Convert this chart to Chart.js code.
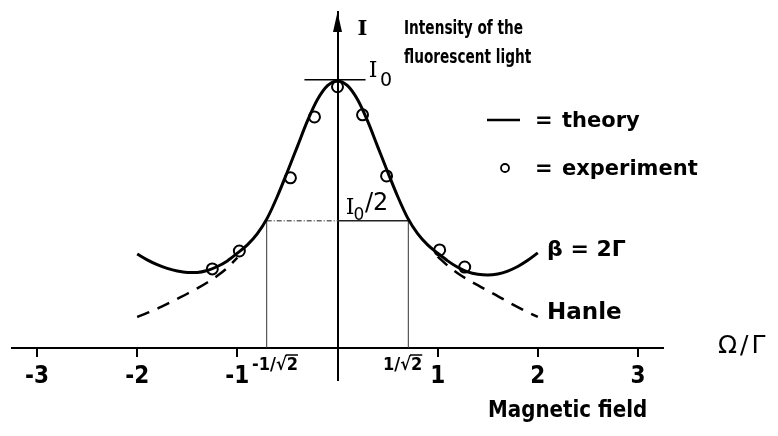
<!DOCTYPE html>
<html>
<head>
<meta charset="utf-8">
<script src="https://cdn.jsdelivr.net/npm/chart.js@4.4.1/dist/chart.umd.min.js"></script>
<style>
  html, body { margin: 0; padding: 0; background: #fff; }
  #wrap { width: 778px; height: 436px; position: relative; }
</style>
</head>
<body>
<div id="wrap"><canvas id="chart"></canvas></div>
<script>
// x in units of Omega/Gamma, y in units of I0
const xTicks = [-3, -2, -1, 1, 2, 3];

const theoryX = [-2.0, -1.9, -1.8, -1.7, -1.6, -1.5, -1.4, -1.3, -1.2, -1.1, -1.0,
  -0.9, -0.8, -0.7, -0.6, -0.5, -0.4, -0.3, -0.2, -0.1, 0.0,
  0.1, 0.2, 0.3, 0.4, 0.5, 0.6, 0.7, 0.8, 0.9, 1.0,
  1.1, 1.2, 1.3, 1.4, 1.5, 1.6, 1.7, 1.8, 1.9, 2.0];
const theoryI = [0.352, 0.330, 0.312, 0.298, 0.288, 0.283, 0.283, 0.290, 0.305, 0.326, 0.355,
  0.386, 0.428, 0.487, 0.568, 0.660, 0.755, 0.850, 0.930, 0.982, 1.000,
  0.982, 0.930, 0.850, 0.755, 0.660, 0.568, 0.487, 0.428, 0.386, 0.355,
  0.326, 0.302, 0.285, 0.276, 0.273, 0.277, 0.288, 0.305, 0.328, 0.356];

// Hanle curve, only the parts that leave the theory curve
const hanleLeftX = [-2.0, -1.9, -1.8, -1.7, -1.6, -1.5, -1.4, -1.3, -1.2, -1.1, -1.0];
const hanleLeftI = [0.116, 0.131, 0.147, 0.165, 0.184, 0.203, 0.223, 0.245, 0.270, 0.300, 0.338];
const hanleRightX = [1.0, 1.1, 1.2, 1.3, 1.4, 1.5, 1.6, 1.7, 1.8, 1.9, 2.0];
const hanleRightI = [0.342, 0.308, 0.280, 0.256, 0.235, 0.214, 0.194, 0.173, 0.153, 0.134, 0.116];

// measured points
const expX = [-1.25, -0.98, -0.47, -0.23, 0.0, 0.25, 0.49, 1.02, 1.27];
const expI = [0.296, 0.363, 0.637, 0.865, 0.978, 0.873, 0.644, 0.367, 0.303];

// half width construction and I0 marker
const halfX = [-0.707, 0.707];
const halfI = 0.476;
const i0MarkX = [-0.33, 0.28];
const i0Level = 1.004;

const pts = (xs, ys) => xs.map((x, i) => ({ x: x, y: ys[i] }));

const lineSet = (data, extra) => Object.assign({
  data: data,
  showLine: true,
  borderColor: "#000",
  borderWidth: 3,
  pointRadius: 0,
  fill: false,
}, extra);

const SANS = "'DejaVu Sans', sans-serif";
const COND = "'DejaVu Sans Condensed', 'DejaVu Sans', sans-serif";
const SERIF = "'DejaVu Serif', serif";

const annotations = {
  id: "annotations",
  afterDatasetsDraw(chart) {
    const ctx = chart.ctx;
    const xs = chart.scales.x;
    const ys = chart.scales.y;
    const x0 = xs.getPixelForValue(0);
    const top = chart.chartArea.top;

    const text = (str, x, y, font, align, spacing) => {
      ctx.font = font;
      ctx.textAlign = align || "left";
      ctx.textBaseline = "middle";
      ctx.letterSpacing = spacing || "0px";
      ctx.fillText(str, x, y);
      ctx.letterSpacing = "0px";
    };
    // lettering squeezed sideways, like the stencil text of the figure
    const narrow = (str, x, y, font, sx) => {
      ctx.save();
      ctx.translate(x, y);
      ctx.scale(sx, 1);
      text(str, 0, 0, font);
      ctx.restore();
    };

    ctx.save();
    ctx.fillStyle = "#000";
    ctx.strokeStyle = "#000";

    // arrow head on the intensity axis
    ctx.beginPath();
    ctx.moveTo(x0, top);
    ctx.lineTo(x0 - 4.5, top + 20);
    ctx.lineTo(x0 + 4.5, top + 20);
    ctx.closePath();
    ctx.fill();

    // axis titles
    text("I", x0 + 25, 30, "bold 21px " + SERIF, "center");
    narrow("Intensity of the", 404, 29, "bold 19px " + COND, 0.8);
    narrow("fluorescent light", 404, 58, "bold 19px " + COND, 0.8);
    text("\u03A9/\u0393", 718, 346, "25px " + SANS, "left", "3px");
    narrow("Magnetic field", 488, 411, "bold 23px " + COND, 0.96);

    // I0 label
    const yI0 = ys.getPixelForValue(i0Level);
    text("I", 373, yI0 - 9, "22px " + SERIF, "center");
    text("0", 386, yI0 + 1, "19px " + SANS, "center");

    // I0/2 label
    const yHalf = ys.getPixelForValue(halfI);
    text("I", 350, yHalf - 13, "22px " + SERIF, "center");
    text("0", 359, yHalf - 5, "17px " + SANS, "center");
    text("/2", 365, yHalf - 17, "24px " + SANS);

    // curve labels
    text("\u03B2 = 2\u0393", 547, 250, "bold 22px " + SANS);
    text("Hanle", 547, 313, "bold 23px " + SANS);

    // half width tick labels with an overline on the root
    const rootLabel = (pre, x, y) => {
      ctx.font = "bold 18px " + COND;
      ctx.textAlign = "left";
      ctx.textBaseline = "alphabetic";
      ctx.fillText(pre + "\u221A2", x, y);
      const w0 = ctx.measureText(pre + "\u221A").width;
      const w1 = ctx.measureText(pre + "\u221A2").width;
      ctx.lineWidth = 1.5;
      ctx.beginPath();
      ctx.moveTo(x + w0 - 1, y - 15);
      ctx.lineTo(x + w1, y - 15);
      ctx.stroke();
    };
    rootLabel("-1/", 252, 370);
    rootLabel("1/", 383, 370);

    // legend
    ctx.lineWidth = 2.5;
    ctx.beginPath();
    ctx.moveTo(487, 120);
    ctx.lineTo(520, 120);
    ctx.stroke();
    text("=", 535, 122, "bold 21px " + SANS);
    text("theory", 562, 122, "bold 21px " + SANS);
    ctx.lineWidth = 1.8;
    ctx.beginPath();
    ctx.arc(505, 168, 4, 0, Math.PI * 2);
    ctx.stroke();
    text("=", 535, 170, "bold 21px " + SANS);
    text("experiment", 562, 170, "bold 21px " + SANS);

    ctx.restore();
  },
};

new Chart(document.getElementById("chart"), {
  type: "scatter",
  data: {
    datasets: [
      lineSet(pts(theoryX, theoryI), { cubicInterpolationMode: "monotone" }),
      lineSet(pts(hanleLeftX, hanleLeftI), { borderWidth: 2.5, borderDash: [13, 9], cubicInterpolationMode: "monotone" }),
      lineSet(pts(hanleRightX, hanleRightI), { borderWidth: 2.5, borderDash: [13, 9], cubicInterpolationMode: "monotone" }),
      lineSet([{ x: halfX[0], y: halfI }, { x: 0, y: halfI }], { borderColor: "#666", borderWidth: 1.5, borderDash: [5, 2, 1, 2] }),
      lineSet([{ x: 0, y: halfI }, { x: halfX[1], y: halfI }], { borderColor: "#222", borderWidth: 1.5 }),
      lineSet([{ x: halfX[0], y: 0 }, { x: halfX[0], y: halfI }], { borderColor: "#333", borderWidth: 1 }),
      lineSet([{ x: halfX[1], y: 0 }, { x: halfX[1], y: halfI }], { borderColor: "#333", borderWidth: 1 }),
      lineSet([{ x: i0MarkX[0], y: i0Level }, { x: i0MarkX[1], y: i0Level }], { borderWidth: 1.5 }),
      {
        data: pts(expX, expI),
        pointStyle: "circle",
        pointRadius: 5.5,
        pointBorderWidth: 2,
        pointBorderColor: "#000",
        pointBackgroundColor: "rgba(0,0,0,0)",
      },
    ],
  },
  options: {
    responsive: true,
    maintainAspectRatio: false,
    animation: false,
    events: [],
    layout: { padding: { left: 12, right: 115, top: 12, bottom: 56 } },
    plugins: { legend: { display: false }, tooltip: { enabled: false } },
    scales: {
      x: {
        type: "linear",
        position: { y: 0 },
        min: -3.25,
        max: 3.25,
        afterBuildTicks: (scale) => {
          scale.ticks = xTicks.map((v) => ({ value: v }));
        },
        border: { display: true, color: "#000", width: 2 },
        grid: { display: true, drawOnChartArea: false, drawTicks: true, tickLength: 8, color: "#000", lineWidth: 2 },
        ticks: {
          color: "#000",
          padding: 6,
          maxRotation: 0,
          autoSkip: false,
          font: { family: COND, size: 24, weight: "bold" },
        },
      },
      y: {
        type: "linear",
        position: { x: 0 },
        min: -0.12,
        max: 1.258,
        border: { display: true, color: "#000", width: 2 },
        grid: { display: false },
        ticks: { display: false },
      },
    },
  },
  plugins: [annotations],
});
</script>
</body>
</html>
